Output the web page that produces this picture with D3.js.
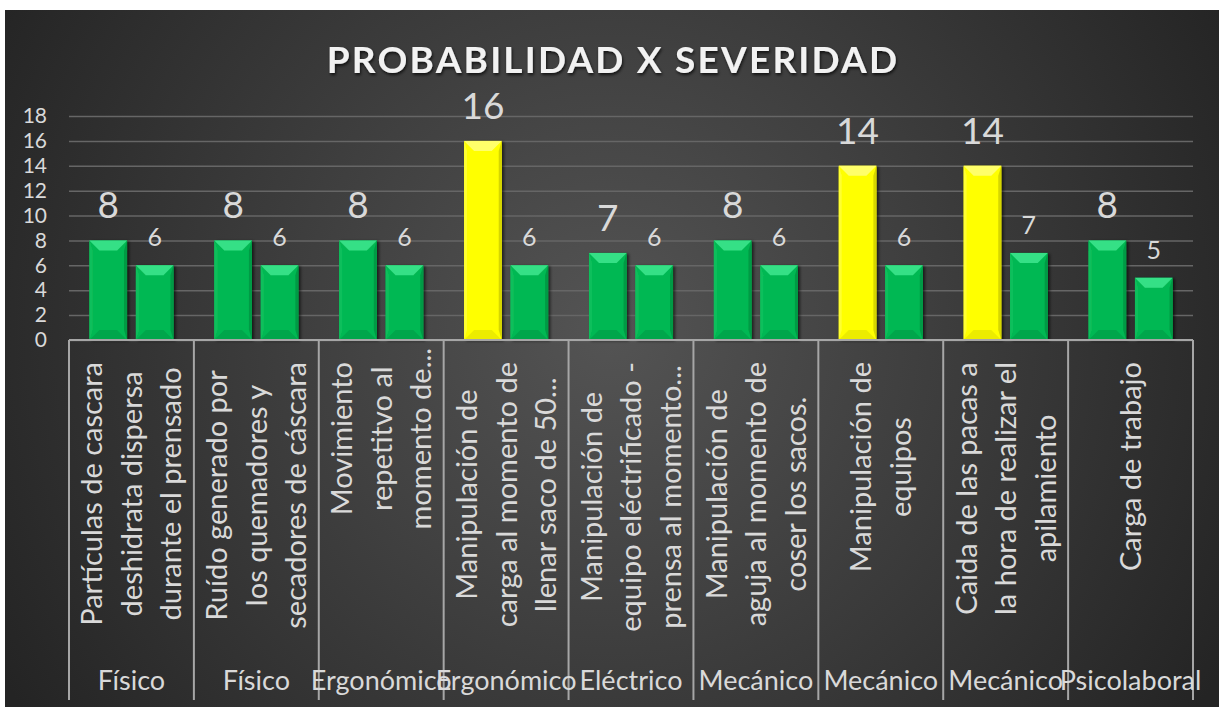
<!DOCTYPE html>
<html>
<head>
<meta charset="utf-8">
<script src="https://cdn.jsdelivr.net/npm/d3@7/dist/d3.min.js"></script>
<style>
  body { margin: 0; background: #ffffff; }
  text { font-family: Lato, "Open Sans", sans-serif; }
</style>
</head>
<body>
<div id="canvas"></div>
<script>
"use strict"

// data
let riskTypes = ["Físico", "Físico", "Ergonómico", "Ergonómico", "Eléctrico",
                 "Mecánico", "Mecánico", "Mecánico", "Psicolaboral"];

let riskLabels = [
  ["Partículas de cascara", "deshidrata dispersa", "durante el prensado"],
  ["Ruído generado por", "los quemadores y", "secadores de cáscara"],
  ["Movimiento", "repetitvo al", "momento de..."],
  ["Manipulación de", "carga al momento de", "llenar saco de 50..."],
  ["Manipulación de", "equipo eléctrificado -", "prensa al momento..."],
  ["Manipulación de", "aguja al momento de", "coser los sacos."],
  ["Manipulación de", "equipos"],
  ["Caida de las pacas a", "la hora de realizar el", "apilamiento"],
  ["Carga de trabajo"]
];

let seriesA = [8, 8, 8, 16, 7, 8, 14, 14, 8];
let seriesB = [6, 6, 6, 6, 6, 6, 6, 7, 5];

let yTicks = [0, 2, 4, 6, 8, 10, 12, 14, 16, 18];

let width = 1219;
let height = 707;

let plotLeft = 69;
let plotRight = 1193;
let plotTop = 116;
let plotBottom = 340;

let svg = d3.select("#canvas")
    .append("svg")
    .attr("width", width)
    .attr("height", height);

let defs = svg.append("defs");

let bg = defs.append("radialGradient")
    .attr("id", "bg")
    .attr("gradientUnits", "userSpaceOnUse")
    .attr("cx", 610).attr("cy", 330).attr("r", 700);
bg.append("stop").attr("offset", "0%").attr("stop-color", "#545454");
bg.append("stop").attr("offset", "100%").attr("stop-color", "#242424");

let shadow = defs.append("filter")
    .attr("id", "shadow")
    .attr("x", "-20%").attr("y", "-20%")
    .attr("width", "150%").attr("height", "150%");
shadow.append("feDropShadow")
    .attr("dx", 2).attr("dy", 1)
    .attr("stdDeviation", 1.5)
    .attr("flood-color", "#000")
    .attr("flood-opacity", 0.6);

let titleShadow = defs.append("filter").attr("id", "tshadow");
titleShadow.append("feDropShadow")
    .attr("dx", 1).attr("dy", 2)
    .attr("stdDeviation", 1.5)
    .attr("flood-color", "#000")
    .attr("flood-opacity", 0.7);

svg.append("rect")
    .attr("x", 5)
    .attr("y", 10)
    .attr("width", width - 5)
    .attr("height", height - 10)
    .attr("fill", "url(#bg)");

svg.append("text")
    .attr("x", 613)
    .attr("y", 73)
    .attr("text-anchor", "middle")
    .attr("font-size", 37)
    .attr("font-weight", "bold")
    .attr("letter-spacing", 2.2)
    .attr("fill", "#f2f2f2")
    .attr("filter", "url(#tshadow)")
    .text("PROBABILIDAD X SEVERIDAD");

let x = d3.scaleBand()
    .domain(d3.range(riskTypes.length))
    .range([plotLeft, plotRight]);

let xInner = d3.scaleBand()
    .domain(["a", "b"])
    .range([0, x.bandwidth()])
    .paddingInner(0.19)
    .paddingOuter(0.44);

let y = d3.scaleLinear()
    .domain([0, 18])
    .range([plotBottom, plotTop]);

// gridlines and tick labels
let yAxis = d3.axisLeft(y)
    .tickValues(yTicks)
    .tickSize(-(plotRight - plotLeft))
    .tickPadding(22);

let yG = svg.append("g")
    .attr("transform", "translate(" + plotLeft + ",0)")
    .call(yAxis);
yG.select(".domain").remove();
yG.selectAll(".tick line")
    .attr("stroke", "#666666")
    .attr("stroke-width", 1.5);
yG.selectAll(".tick text")
    .attr("fill", "#d9d9d9")
    .attr("font-size", 21)
    .attr("font-family", "Lato, sans-serif");

// bars with a bevel look
let bev = 10;
let palette = {
  green:  { base: "#05b853", top: "#36e086", left: "#0dbf5c", right: "#039a44", bottom: "#04a64b" },
  yellow: { base: "#ffff00", top: "#ffff6a", left: "#ffff30", right: "#d6d600", bottom: "#ecec00" }
};

function drawBar(g, bx, bw, value, col) {
  let top = y(value);
  let bot = y(0);
  let bar = g.append("g").attr("filter", "url(#shadow)");
  bar.append("rect")
      .attr("x", bx).attr("y", top)
      .attr("width", bw).attr("height", bot - top)
      .attr("fill", col.base);
  let pts = (arr) => arr.map(p => p.join(",")).join(" ");
  bar.append("polygon")
      .attr("points", pts([[bx, top], [bx + bw, top], [bx + bw - bev, top + bev], [bx + bev, top + bev]]))
      .attr("fill", col.top);
  bar.append("polygon")
      .attr("points", pts([[bx, top], [bx + bev * 0.3, top + bev], [bx + bev * 0.3, bot - bev], [bx, bot]]))
      .attr("fill", col.left);
  bar.append("polygon")
      .attr("points", pts([[bx + bw, top], [bx + bw, bot], [bx + bw - bev * 0.3, bot - bev], [bx + bw - bev * 0.3, top + bev]]))
      .attr("fill", col.right);
  bar.append("polygon")
      .attr("points", pts([[bx, bot], [bx + bev, bot - bev], [bx + bw - bev, bot - bev], [bx + bw, bot]]))
      .attr("fill", col.bottom);
}

let bars = svg.append("g");
riskTypes.forEach((t, i) => {
  let colA = seriesA[i] >= 12 ? palette.yellow : palette.green;
  drawBar(bars, x(i) + xInner("a"), xInner.bandwidth(), seriesA[i], colA);
  drawBar(bars, x(i) + xInner("b"), xInner.bandwidth(), seriesB[i], palette.green);
});

// value labels
svg.append("g").selectAll("text")
    .data(seriesA)
    .join("text")
    .attr("x", (d, i) => x(i) + xInner("a") + xInner.bandwidth() / 2)
    .attr("y", d => y(d) - 22)
    .attr("text-anchor", "middle")
    .attr("font-size", 37)
    .attr("fill", "#d9d9d9")
    .text(d => d);

svg.append("g").selectAll("text")
    .data(seriesB)
    .join("text")
    .attr("x", (d, i) => x(i) + xInner("b") + xInner.bandwidth() / 2)
    .attr("y", d => y(d) - 19)
    .attr("text-anchor", "middle")
    .attr("font-size", 25)
    .attr("fill", "#d9d9d9")
    .text(d => d);

// category axis: base line and dividers
let axisG = svg.append("g");
axisG.append("line")
    .attr("x1", plotLeft).attr("x2", plotRight)
    .attr("y1", plotBottom).attr("y2", plotBottom)
    .attr("stroke", "#a6a6a6")
    .attr("stroke-width", 2);

axisG.selectAll(".divider")
    .data(d3.range(riskTypes.length + 1))
    .join("line")
    .attr("class", "divider")
    .attr("x1", i => plotLeft + i * x.step())
    .attr("x2", i => plotLeft + i * x.step())
    .attr("y1", plotBottom)
    .attr("y2", 700)
    .attr("stroke", "#a6a6a6")
    .attr("stroke-width", 2);

// rotated risk descriptions
let linePitch = 39.5;
let labelTop = 362;
riskLabels.forEach((lines, i) => {
  let cx = x(i) + x.bandwidth() / 2;
  let g = axisG.append("g");
  let texts = g.selectAll("text")
      .data(lines)
      .join("text")
      .attr("text-anchor", "middle")
      .attr("dy", "0.36em")
      .attr("font-size", 29)
      .attr("fill", "#d9d9d9")
      .text(d => d);
  let full = [];
  texts.each(function(d) {
    if (!d.endsWith("...")) full.push(this.getComputedTextLength());
  });
  if (full.length === 0) texts.each(function() { full.push(this.getComputedTextLength()); });
  let cy = labelTop + d3.max(full) / 2;
  texts.attr("transform", (d, j) => {
    let lx = cx + (j - (lines.length - 1) / 2) * linePitch;
    return "translate(" + lx + "," + cy + ") rotate(-90)";
  });
});

// outer level: risk types
axisG.selectAll(".type")
    .data(riskTypes)
    .join("text")
    .attr("class", "type")
    .attr("x", (d, i) => x(i) + x.bandwidth() / 2)
    .attr("y", 690)
    .attr("text-anchor", "middle")
    .attr("font-size", 27)
    .attr("fill", "#d9d9d9")
    .text(d => d);
</script>
</body>
</html>
